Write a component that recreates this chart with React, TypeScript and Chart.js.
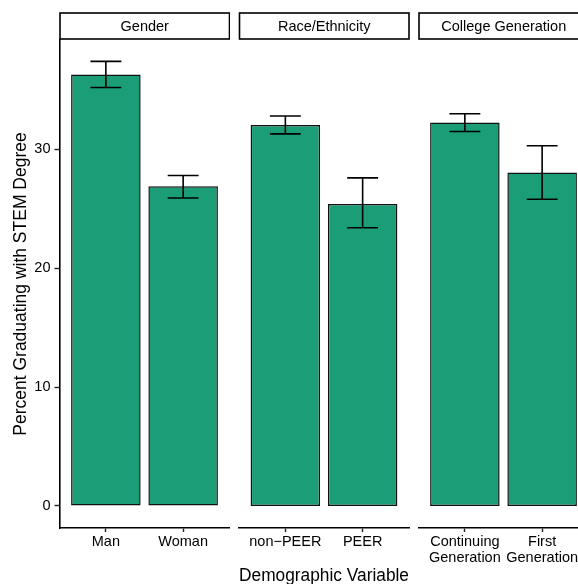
import React, { useEffect, useRef } from 'react';
import { Chart, registerables } from 'chart.js';

Chart.register(...registerables);

// ---------- data ----------
const stripLabels = ['Gender', 'Race/Ethnicity', 'College Generation'];

const genderCategories: (string | string[])[] = ['Man', 'Woman'];
const genderValues = [36.3, 26.9];
const genderLower = [35.2, 25.9];
const genderUpper = [37.4, 27.8];

const raceCategories: (string | string[])[] = ['non\u2212PEER', 'PEER'];
const raceValues = [32.05, 25.4];
const raceLower = [31.3, 23.4];
const raceUpper = [32.8, 27.6];

const generationCategories: (string | string[])[] = [
  ['Continuing', 'Generation'],
  ['First', 'Generation'],
];
const generationValues = [32.25, 28.05];
const generationLower = [31.5, 25.8];
const generationUpper = [33.0, 30.3];

const yTicks = [0, 10, 20, 30];
const yTitle = 'Percent Graduating with STEM Degree';
const xTitle = 'Demographic Variable';

// ---------- style ----------
const FONT = "'Liberation Sans', Arial, Helvetica, sans-serif";
const BAR_FILL = '#1B9E77';
const Y_MIN = -1.86;
const Y_MAX = 39.2;
const X_MIN = 0.4;
const X_MAX = 2.6;
const CAP_HALF = 0.2;
const CANVAS_H = 600;

type Facet = {
  strip: string;
  categories: (string | string[])[];
  values: number[];
  lower: number[];
  upper: number[];
};

const facets: Facet[] = [
  { strip: stripLabels[0], categories: genderCategories, values: genderValues, lower: genderLower, upper: genderUpper },
  { strip: stripLabels[1], categories: raceCategories, values: raceValues, lower: raceLower, upper: raceUpper },
  { strip: stripLabels[2], categories: generationCategories, values: generationValues, lower: generationLower, upper: generationUpper },
];

const facetPlugin = {
  id: 'facetDecor',
  afterDatasetsDraw(chart: any, _args: any, opts: any) {
    const { ctx } = chart;
    const xs = chart.scales.x;
    const ys = chart.scales.y;
    const lower: number[] = opts.lower || [];
    const upper: number[] = opts.upper || [];
    ctx.save();
    ctx.strokeStyle = '#000';
    ctx.lineWidth = 1.6;
    lower.forEach((lo, i) => {
      const xv = i + 1;
      const xc = xs.getPixelForValue(xv);
      const xl = xs.getPixelForValue(xv - CAP_HALF);
      const xr = xs.getPixelForValue(xv + CAP_HALF);
      const yl = ys.getPixelForValue(lo);
      const yu = ys.getPixelForValue(upper[i]);
      ctx.beginPath();
      ctx.moveTo(xc, yu);
      ctx.lineTo(xc, yl);
      ctx.moveTo(xl, yu);
      ctx.lineTo(xr, yu);
      ctx.moveTo(xl, yl);
      ctx.lineTo(xr, yl);
      ctx.stroke();
    });
    ctx.restore();
  },
  afterDraw(chart: any, _args: any, opts: any) {
    const { ctx, chartArea } = chart;
    const left = chartArea.left + 0.5;
    const right = chartArea.right;
    const top = chartArea.top - 27;
    const bottom = chartArea.top - 1;
    ctx.save();
    ctx.fillStyle = '#fff';
    ctx.fillRect(left, top, right - left, bottom - top);
    ctx.strokeStyle = '#000';
    ctx.lineWidth = 1.6;
    ctx.strokeRect(left, top, right - left, bottom - top);
    ctx.fillStyle = '#000';
    ctx.font = `14.5px ${FONT}`;
    ctx.textAlign = 'center';
    ctx.textBaseline = 'middle';
    ctx.fillText(opts.strip, (left + right) / 2, (top + bottom) / 2 + 0.5);
    ctx.restore();
  },
};

type PanelProps = {
  facet: Facet;
  left: number;
  width: number;
  padLeft: number;
  padRight: number;
  showY: boolean;
  showXTitle: boolean;
};

function FacetPanel({ facet, left, width, padLeft, padRight, showY, showXTitle }: PanelProps) {
  const ref = useRef<HTMLCanvasElement>(null);

  useEffect(() => {
    if (!ref.current) return;
    const cats = facet.categories;
    const yScale: any = {
      type: 'linear',
      display: showY,
      min: Y_MIN,
      max: Y_MAX,
      afterBuildTicks: (s: any) => {
        s.ticks = yTicks.map((v) => ({ value: v }));
      },
      ticks: {
        color: '#000',
        padding: 4,
        font: { family: FONT, size: 14.5 },
      },
      grid: {
        drawOnChartArea: false,
        drawTicks: true,
        tickLength: 5,
        tickWidth: 1.4,
        tickColor: '#222',
      },
      border: { display: true, color: '#000', width: 1.6 },
      title: {
        display: true,
        text: yTitle,
        color: '#000',
        font: { family: FONT, size: 17.5 },
        padding: { top: 11, bottom: 0 },
      },
    };
    if (showY) {
      yScale.afterFit = (s: any) => {
        s.width = 59.5;
      };
    }
    const chart = new Chart(ref.current, {
      type: 'bar',
      data: {
        datasets: [
          {
            data: facet.values.map((v, i) => ({ x: i + 1, y: v })),
            backgroundColor: BAR_FILL,
            borderColor: '#111',
            borderWidth: 1.5,
            borderSkipped: false,
            barPercentage: 0.9,
            categoryPercentage: 1,
          } as any,
        ],
      },
      options: {
        responsive: false,
        animation: false,
        devicePixelRatio: 1,
        layout: { padding: { top: 40, bottom: 0, left: padLeft, right: padRight } },
        plugins: {
          legend: { display: false },
          tooltip: { enabled: false },
          title: { display: false },
          facetDecor: { strip: facet.strip, lower: facet.lower, upper: facet.upper },
        } as any,
        scales: {
          x: {
            type: 'linear',
            min: X_MIN,
            max: X_MAX,
            offset: false,
            afterBuildTicks: (s: any) => {
              s.ticks = cats.map((_c, i) => ({ value: i + 1 }));
            },
            afterFit: (s: any) => {
              s.height = 72;
            },
            ticks: {
              callback: (_v: any, i: number) => cats[i],
              maxRotation: 0,
              minRotation: 0,
              autoSkip: false,
              padding: 2.5,
              color: '#000',
              font: { family: FONT, size: 14.5, lineHeight: 1.08 },
            },
            grid: {
              offset: false,
              drawOnChartArea: false,
              drawTicks: true,
              tickLength: 4,
              tickWidth: 1.4,
              tickColor: '#222',
            },
            border: { display: true, color: '#000', width: 1.6 },
            title: {
              display: showXTitle,
              text: xTitle,
              color: '#000',
              font: { family: FONT, size: 17.5 },
              padding: { top: 0, bottom: 13.5 },
            },
          },
          y: yScale,
        },
      } as any,
      plugins: [facetPlugin as any],
    });
    return () => chart.destroy();
  }, []);

  return (
    <canvas
      ref={ref}
      width={width}
      height={CANVAS_H}
      style={{ position: 'absolute', left, top: 0, width, height: CANVAS_H }}
    />
  );
}

export default function App() {
  return (
    <div
      style={{
        position: 'fixed',
        left: 0,
        top: 0,
        width: 578,
        height: 584,
        overflow: 'hidden',
        background: '#fff',
      }}
    >
      <div style={{ position: 'relative', width: 600, height: CANVAS_H }}>
        <FacetPanel facet={facets[0]} left={0} width={230} padLeft={0} padRight={0.5} showY={true} showXTitle={false} />
        <FacetPanel facet={facets[1]} left={229} width={190} padLeft={10} padRight={10} showY={false} showXTitle={true} />
        <FacetPanel facet={facets[2]} left={418} width={172} padLeft={0.5} padRight={1.5} showY={false} showXTitle={false} />
      </div>
    </div>
  );
}
